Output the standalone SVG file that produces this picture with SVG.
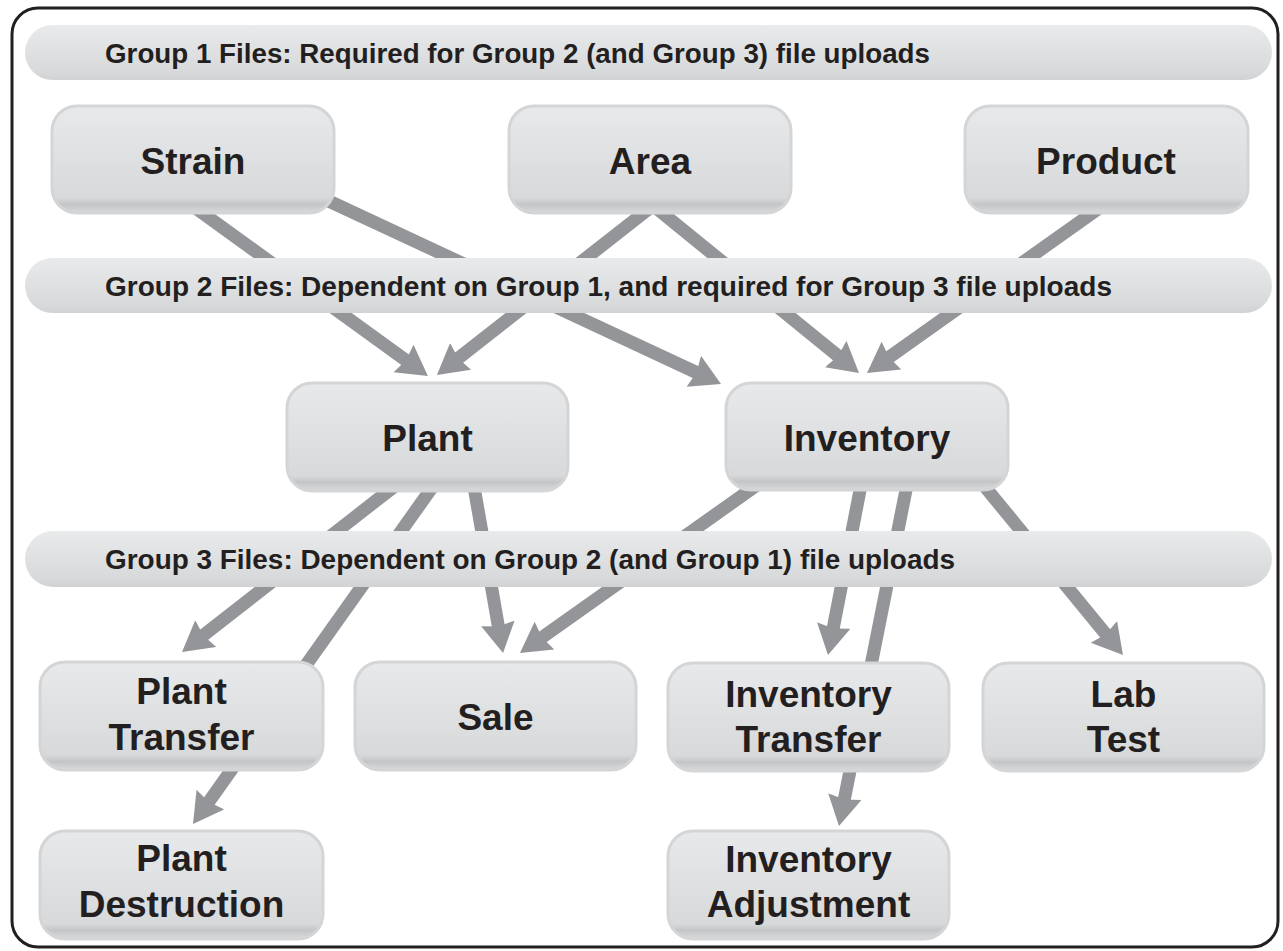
<svg xmlns="http://www.w3.org/2000/svg" width="1283" height="951" viewBox="0 0 1283 951">
  <defs>
    <linearGradient id="boxg" x1="0" y1="0" x2="0" y2="1">
      <stop offset="0" stop-color="#e8e9ea"/>
      <stop offset="0.86" stop-color="#d8d9db"/>
      <stop offset="0.92" stop-color="#c3c5c7"/>
      <stop offset="1" stop-color="#d9dadc"/>
    </linearGradient>
    <linearGradient id="barg" x1="0" y1="0" x2="0" y2="1">
      <stop offset="0" stop-color="#e9eaeb"/>
      <stop offset="0.85" stop-color="#d8d9db"/>
      <stop offset="1" stop-color="#d0d2d4"/>
    </linearGradient>
    <marker id="ah" markerUnits="userSpaceOnUse" markerWidth="40" markerHeight="40" refX="10" refY="17" orient="auto">
      <path d="M0,0 L30,17 L0,34 L3,17 Z" fill="#939598"/>
    </marker>
    <style>
      .frame { fill: #ffffff; stroke: #231f20; stroke-width: 3; }
      .box { fill: url(#boxg); stroke: #d4d5d7; stroke-width: 3; }
      .bar { fill: url(#barg); }
      .conn { stroke: #939598; stroke-width: 13; fill: none; marker-end: url(#ah); }
      .lbl { font-family: "Liberation Sans", Arial, sans-serif; font-weight: bold; font-size: 37px; fill: #231f20; text-anchor: middle; }
      .bt { font-family: "Liberation Sans", Arial, sans-serif; font-weight: bold; font-size: 27.5px; fill: #231f20; }
    </style>
  </defs>

  <rect class="frame" x="12" y="8" width="1266" height="939" rx="26"/>

  <g id="connectors">
    <line class="conn" x1="190" y1="204" x2="411.7" y2="364.4"/>
    <line class="conn" x1="318" y1="196" x2="702.9" y2="375.5"/>
    <line class="conn" x1="655" y1="204" x2="452.7" y2="362.6"/>
    <line class="conn" x1="650" y1="203" x2="843.5" y2="360.4"/>
    <line class="conn" x1="1105" y1="204" x2="883.3" y2="361.4"/>
    <line class="conn" x1="400" y1="482" x2="197.8" y2="639.7"/>
    <line class="conn" x1="436" y1="482" x2="204.6" y2="807.7"/>
    <line class="conn" x1="473" y1="481" x2="499.6" y2="633.3"/>
    <line class="conn" x1="767" y1="478" x2="536.3" y2="641.5"/>
    <line class="conn" x1="862" y1="480" x2="831.8" y2="635.4"/>
    <line class="conn" x1="908" y1="480" x2="842.9" y2="806.4"/>
    <line class="conn" x1="981" y1="482" x2="1110.3" y2="639.6"/>
  </g>

  <g id="group1-bar">
    <rect class="bar" x="25" y="25" width="1247" height="55" rx="27.5"/>
    <text class="bt" x="105" y="63" textLength="825" lengthAdjust="spacingAndGlyphs">Group 1 Files: Required for Group 2 (and Group 3) file uploads</text>
  </g>
  <g id="group2-bar">
    <rect class="bar" x="25" y="258" width="1247" height="55" rx="27.5"/>
    <text class="bt" x="105" y="296" textLength="1007" lengthAdjust="spacingAndGlyphs">Group 2 Files: Dependent on Group 1, and required for Group 3 file uploads</text>
  </g>
  <g id="group3-bar">
    <rect class="bar" x="25" y="531" width="1247" height="56" rx="28"/>
    <text class="bt" x="105" y="569" textLength="850" lengthAdjust="spacingAndGlyphs">Group 3 Files: Dependent on Group 2 (and Group 1) file uploads</text>
  </g>

  <g id="strain">
    <rect class="box" x="52" y="106" width="282" height="107" rx="25"/>
    <text class="lbl" x="193" y="174">Strain</text>
  </g>
  <g id="area">
    <rect class="box" x="509" y="106" width="282" height="107" rx="25"/>
    <text class="lbl" x="650" y="174">Area</text>
  </g>
  <g id="product">
    <rect class="box" x="965" y="106" width="283" height="107" rx="25"/>
    <text class="lbl" x="1106" y="174">Product</text>
  </g>
  <g id="plant">
    <rect class="box" x="287" y="383" width="281" height="108" rx="25"/>
    <text class="lbl" x="427.5" y="451">Plant</text>
  </g>
  <g id="inventory">
    <rect class="box" x="726" y="383" width="282" height="107" rx="25"/>
    <text class="lbl" x="867" y="451">Inventory</text>
  </g>
  <g id="plant-transfer">
    <rect class="box" x="40" y="662" width="283" height="108" rx="25"/>
    <text class="lbl" x="181.5" y="704">Plant</text>
    <text class="lbl" x="181.5" y="750">Transfer</text>
  </g>
  <g id="sale">
    <rect class="box" x="355" y="662" width="281" height="108" rx="25"/>
    <text class="lbl" x="495.5" y="730">Sale</text>
  </g>
  <g id="inventory-transfer">
    <rect class="box" x="668" y="663" width="281" height="108" rx="25"/>
    <text class="lbl" x="808.5" y="707">Inventory</text>
    <text class="lbl" x="808.5" y="752">Transfer</text>
  </g>
  <g id="lab-test">
    <rect class="box" x="983" y="663" width="281" height="108" rx="25"/>
    <text class="lbl" x="1123.5" y="707">Lab</text>
    <text class="lbl" x="1123.5" y="752">Test</text>
  </g>
  <g id="plant-destruction">
    <rect class="box" x="40" y="831" width="283" height="108" rx="25"/>
    <text class="lbl" x="181.5" y="871">Plant</text>
    <text class="lbl" x="181.5" y="917">Destruction</text>
  </g>
  <g id="inventory-adjustment">
    <rect class="box" x="668" y="831" width="281" height="108" rx="25"/>
    <text class="lbl" x="808.5" y="872">Inventory</text>
    <text class="lbl" x="808.5" y="917">Adjustment</text>
  </g>
</svg>
